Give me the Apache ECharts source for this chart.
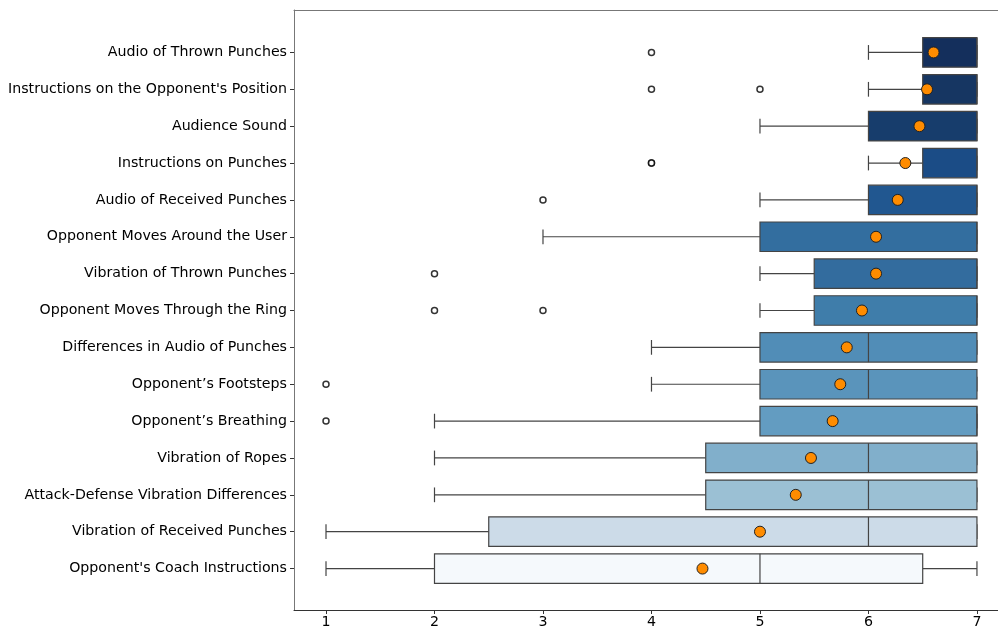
<!DOCTYPE html>
<html>
<head>
<meta charset="utf-8">
<script src="https://cdn.jsdelivr.net/npm/echarts@6/dist/echarts.min.js"></script>
<style>
  html, body { margin: 0; padding: 0; background: #ffffff; }
  #chart { width: 998px; height: 626px; }
</style>
</head>
<body>
<div id="chart"></div>
<script>
// Ratings per feedback type (1-7 scale), ordered top to bottom
const categories = [
  "Audio of Thrown Punches",
  "Instructions on the Opponent's Position",
  "Audience Sound",
  "Instructions on Punches",
  "Audio of Received Punches",
  "Opponent Moves Around the User",
  "Vibration of Thrown Punches",
  "Opponent Moves Through the Ring",
  "Differences in Audio of Punches",
  "Opponent\u2019s Footsteps",
  "Opponent\u2019s Breathing",
  "Vibration of Ropes",
  "Attack-Defense Vibration Differences",
  "Vibration of Received Punches",
  "Opponent's Coach Instructions"
];
const whiskerLow  = [6, 6, 5, 6, 5, 3, 5, 5, 4, 4, 2, 2, 2, 1, 1];
const quartile1   = [6.5, 6.5, 6, 6.5, 6, 5, 5.5, 5.5, 5, 5, 5, 4.5, 4.5, 2.5, 2];
const medians     = [7, 7, 7, 7, 7, 7, 7, 7, 6, 6, 7, 6, 6, 6, 5];
const quartile3   = [7, 7, 7, 7, 7, 7, 7, 7, 7, 7, 7, 7, 7, 7, 6.5];
const whiskerHigh = [7, 7, 7, 7, 7, 7, 7, 7, 7, 7, 7, 7, 7, 7, 7];
const means       = [6.60, 6.54, 6.47, 6.34, 6.27, 6.07, 6.07, 5.94, 5.80, 5.74, 5.67, 5.47, 5.33, 5.00, 4.47];
// [row index, value]
const outliers = [[0, 4], [1, 4], [1, 5], [3, 4], [3, 4], [4, 3], [6, 2], [7, 2], [7, 3], [9, 1], [10, 1]];
const xTicks = [1, 2, 3, 4, 5, 6, 7];
const boxColors = [
  "#142f5c", "#163662", "#173d6c", "#1b4c86", "#215790",
  "#336e9f", "#336c9e", "#3f7daa", "#518db7", "#5a94bb",
  "#639cc1", "#81afcb", "#9bc0d4", "#ccdbe8", "#f5f9fc"
];

const X_MIN = 0.705, X_MAX = 7.194;
const EDGE = "#444444";
const FONT = 'DejaVu Sans';

const boxData = categories.map((c, i) => [i, whiskerLow[i], quartile1[i], medians[i], quartile3[i], whiskerHigh[i]]);

function renderBox(params, api) {
  const i = api.value(0);
  const lo = api.value(1), a = api.value(2), m = api.value(3), b = api.value(4), hi = api.value(5);
  const band = api.size([0, 1])[1];
  const h = band * 0.8, cap = h * 0.5;
  const pLo = api.coord([lo, i]), pA = api.coord([a, i]), pM = api.coord([m, i]);
  const pB = api.coord([b, i]), pHi = api.coord([hi, i]);
  const y = pA[1];
  const line = { stroke: EDGE, lineWidth: 1.2 };
  const children = [];
  if (pA[0] > pLo[0]) {
    children.push({ type: 'line', shape: { x1: pLo[0], y1: y, x2: pA[0], y2: y }, style: line });
  }
  if (pHi[0] > pB[0]) {
    children.push({ type: 'line', shape: { x1: pB[0], y1: y, x2: pHi[0], y2: y }, style: line });
  }
  children.push({ type: 'line', shape: { x1: pLo[0], y1: y - cap / 2, x2: pLo[0], y2: y + cap / 2 }, style: line });
  children.push({ type: 'line', shape: { x1: pHi[0], y1: y - cap / 2, x2: pHi[0], y2: y + cap / 2 }, style: line });
  children.push({
    type: 'rect',
    shape: { x: pA[0], y: y - h / 2, width: pB[0] - pA[0], height: h },
    style: { fill: boxColors[params.dataIndex], stroke: EDGE, lineWidth: 1.2 }
  });
  children.push({ type: 'line', shape: { x1: pM[0], y1: y - h / 2, x2: pM[0], y2: y + h / 2 }, style: line });
  return { type: 'group', children: children };
}

const chart = echarts.init(document.getElementById('chart'), null, { renderer: 'canvas' });
chart.setOption({
  animation: false,
  backgroundColor: '#ffffff',
  textStyle: { fontFamily: FONT },
  grid: [
    { left: 294, right: 0, top: 10, bottom: 16, containLabel: false, outerBoundsMode: 'none' },
    { left: 294, right: 0, top: 34, bottom: 39, containLabel: false, outerBoundsMode: 'none' }
  ],
  xAxis: [
    {
      gridIndex: 0, type: 'value', min: X_MIN, max: X_MAX, position: 'bottom',
      axisLine: { show: true, onZero: false, lineStyle: { color: '#333333', width: 1 } },
      axisTick: { show: true, customValues: xTicks, length: 4, lineStyle: { color: '#333333' } },
      axisLabel: { customValues: xTicks, fontSize: 14.2, color: '#000000', margin: 5, fontFamily: FONT },
      splitLine: { show: false }
    },
    {
      gridIndex: 0, type: 'value', min: X_MIN, max: X_MAX, position: 'top',
      axisLine: { show: true, onZero: false, lineStyle: { color: '#777777', width: 1 } },
      axisTick: { show: false }, axisLabel: { show: false }, splitLine: { show: false }
    },
    { gridIndex: 1, type: 'value', min: X_MIN, max: X_MAX, show: false }
  ],
  yAxis: [
    {
      gridIndex: 0, type: 'value', min: 0, max: 1,
      axisLine: { show: true, onZero: false, lineStyle: { color: '#777777', width: 1 } },
      axisTick: { show: false }, axisLabel: { show: false }, splitLine: { show: false }
    },
    {
      gridIndex: 1, type: 'category', inverse: true, data: categories,
      axisLine: { show: false, onZero: false },
      axisTick: { show: true, alignWithLabel: true, length: 4, lineStyle: { color: '#333333' } },
      axisLabel: { fontSize: 14.2, color: '#000000', margin: 7, fontFamily: FONT },
      splitLine: { show: false }
    }
  ],
  series: [
    {
      type: 'custom', xAxisIndex: 2, yAxisIndex: 1,
      renderItem: renderBox,
      encode: { x: [1, 2, 3, 4, 5], y: 0 },
      data: boxData, z: 2
    },
    {
      type: 'scatter', xAxisIndex: 2, yAxisIndex: 1,
      symbol: 'circle', symbolSize: 6,
      itemStyle: { color: '#ffffff', borderColor: '#000000', borderWidth: 1.5 },
      data: outliers.map(o => [o[1], categories[o[0]]]), z: 3
    },
    {
      type: 'scatter', xAxisIndex: 2, yAxisIndex: 1,
      symbol: 'circle', symbolSize: 11,
      itemStyle: { color: '#ff8c00', borderColor: '#222222', borderWidth: 1, opacity: 1 },
      data: means.map((v, i) => [v, categories[i]]), z: 4
    }
  ]
});
</script>
</body>
</html>
